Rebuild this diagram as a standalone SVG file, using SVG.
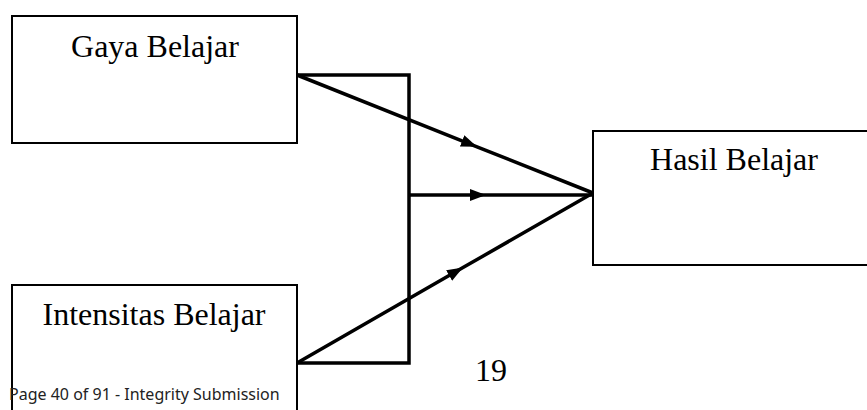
<svg xmlns="http://www.w3.org/2000/svg" width="867" height="410" viewBox="0 0 867 410">
<style>
.box{fill:#fff;stroke:#000;stroke-width:2}
.lbl{font-family:"Liberation Serif","Times New Roman",serif;font-size:32px;fill:#000}
.conn{fill:none;stroke:#000;stroke-width:3.5}
.foot{font-family:"Noto Sans",sans-serif;font-size:16px;fill:#222}
</style>
<defs>
<marker id="ah" viewBox="0 0 16 12" refX="16" refY="6" markerWidth="16" markerHeight="12" markerUnits="userSpaceOnUse" orient="auto">
<path d="M0,0 L16,6 L0,12 Z" fill="#000"/>
</marker>
</defs>
<rect width="867" height="410" fill="#fff"/>
<g id="gaya">
<rect class="box" x="12" y="16" width="285" height="127"/>
<text class="lbl" x="155" y="57" text-anchor="middle">Gaya Belajar</text>
</g>
<g id="intensitas">
<rect class="box" x="12" y="285" width="285" height="140"/>
<text class="lbl" x="154" y="325" text-anchor="middle">Intensitas Belajar</text>
</g>
<g id="hasil">
<rect class="box" x="593" y="131" width="290" height="134"/>
<text class="lbl" x="734" y="170" text-anchor="middle">Hasil Belajar</text>
</g>
<g id="connectors">
<path class="conn" d="M297,75 L409,75 L409,363 L297,363"/>
<path class="conn" d="M297,75 L477,146.8 L593,193" marker-mid="url(#ah)"/>
<path class="conn" d="M409,195 L486,195 L593,195" marker-mid="url(#ah)"/>
<path class="conn" d="M297,363 L463,267.6 L593,193" marker-mid="url(#ah)"/>
</g>
<text class="lbl" x="491" y="381" text-anchor="middle">19</text>
<text class="foot" x="9" y="400">Page 40 of 91 - Integrity Submission</text>
</svg>
